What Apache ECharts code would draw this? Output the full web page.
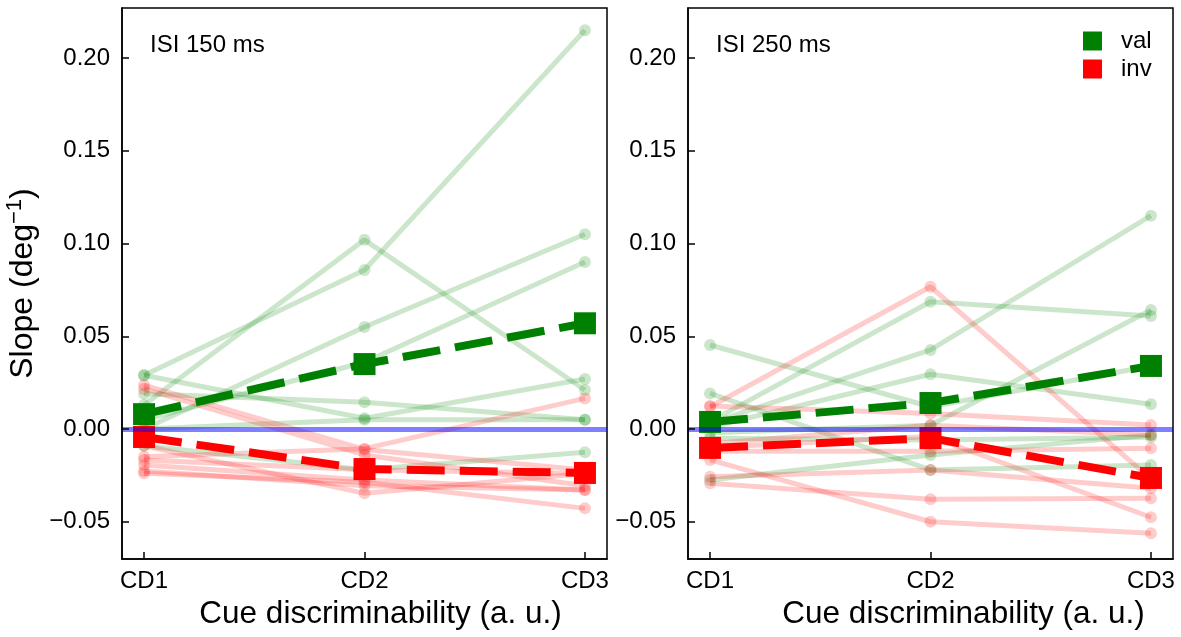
<!DOCTYPE html>
<html><head><meta charset="utf-8">
<script src="https://cdn.jsdelivr.net/npm/echarts@6/dist/echarts.min.js"></script>
<style>html,body{margin:0;padding:0;background:#fff}#c{width:1181px;height:637px}</style>
</head><body><div id="c"></div>
<script>
// ---------- data ----------
const categories = ['CD1', 'CD2', 'CD3'];
const yTickValues = [-0.05, 0, 0.05, 0.10, 0.15, 0.20];
const panelTitles = ['ISI 150 ms', 'ISI 250 ms'];
const legendNames = ['val', 'inv'];

// individual subjects, ISI 150 ms
const isi150Val = [
  [0.029, 0.0857, 0.215],
  [0.013, 0.102, 0.021],
  [0.000, 0.055, 0.105],
  [0.005, 0.036, 0.090],
  [0.029, 0.0058, 0.027],
  [0.019, 0.0144, 0.005],
  [0.000, 0.005, 0.005],
  [-0.009, -0.022, -0.0126]
];
const isi150Inv = [
  [0.0237, -0.011, -0.0221],
  [0.0216, -0.014, -0.0306],
  [-0.015, -0.0106, 0.0165],
  [-0.0167, -0.022, -0.024],
  [-0.0194, -0.0275, -0.0329],
  [-0.0226, -0.0306, -0.0329],
  [-0.0239, -0.0287, -0.0428],
  [-0.009, -0.0347, -0.024]
];
// individual subjects, ISI 250 ms
const isi250Val = [
  [0.0453, 0.012, 0.034],
  [0.0192, -0.0221, -0.0194],
  [0.004, 0.0686, 0.0609],
  [0.003, 0.0426, 0.115],
  [0.001, 0.0295, 0.0133],
  [-0.002, 0.002, 0.0642],
  [-0.0275, -0.014, -0.0032],
  [-0.005, -0.006, -0.0045]
];
const isi250Inv = [
  [0.012, 0.0767, -0.027],
  [0.0124, 0.0084, 0.0022],
  [-0.010, -0.004, -0.0476],
  [-0.012, -0.012, -0.0104],
  [-0.0167, -0.050, -0.0562],
  [-0.0257, -0.0221, -0.032],
  [-0.0293, -0.0379, -0.0374],
  [-0.008, 0.002, -0.0032]
];
// group means
const isi150ValMean = [0.008, 0.035, 0.057];
const isi150InvMean = [-0.0043, -0.0216, -0.0237];
const isi250ValMean = [0.0038, 0.014, 0.034];
const isi250InvMean = [-0.0102, -0.0049, -0.0264];

// ---------- chart ----------
const GREEN = '#008000', RED = '#ff0000';
const FONT = '"Liberation Sans", Arial, Helvetica, sans-serif';
const chart = echarts.init(document.getElementById('c'), null, {renderer: 'canvas'});

const panels = [
  {val: isi150Val, inv: isi150Inv, valMean: isi150ValMean, invMean: isi150InvMean},
  {val: isi250Val, inv: isi250Inv, valMean: isi250ValMean, invMean: isi250InvMean}
];
const gridLefts = [122, 688];
const xNameShift = [32, 66];

const toPts = row => row.map((v, j) => [j, v]);
const fmtY = v => (v < 0 ? '\u2212' : '') + Math.abs(v).toFixed(2);

const grids = [], xAxes = [], yAxes = [], series = [], titles = [];
panels.forEach((p, i) => {
  grids.push({left: gridLefts[i], top: 8, width: 485, height: 551, show: true,
    borderColor: '#000', borderWidth: 1.5, backgroundColor: 'transparent', containLabel: false});
  xAxes.push({
    type: 'value', gridIndex: i, min: -0.1, max: 2.1, z: 5,
    splitLine: {show: false}, axisLine: {show: true, onZero: false, lineStyle: {color: '#000', width: 1.5}},
    axisTick: {show: true, inside: true, length: 7, customValues: [0, 1, 2], lineStyle: {color: '#000', width: 1.5}},
    axisLabel: {customValues: [0, 1, 2], formatter: v => categories[Math.round(v)], fontSize: 24, color: '#000', margin: 10, fontFamily: FONT},
    name: 'Cue discriminability (a. u.)', nameLocation: 'middle', nameGap: 37,
    nameTextStyle: {fontSize: 31.5, color: '#000', fontFamily: FONT, padding: [0, 0, 0, xNameShift[i]]}
  });
  yAxes.push({
    type: 'value', gridIndex: i, min: -0.0701, max: 0.2270, z: 5,
    splitLine: {show: false}, axisLine: {show: true, onZero: false, lineStyle: {color: '#000', width: 1.5}},
    axisTick: {show: true, inside: true, length: 7, customValues: yTickValues, lineStyle: {color: '#000', width: 1.5}},
    axisLabel: {customValues: yTickValues, formatter: fmtY, fontSize: 24, color: '#000', margin: 12, fontFamily: FONT},
    name: i === 0 ? 'Slope (deg{sup|\u22121})' : '', nameLocation: 'middle', nameGap: 80,
    nameTextStyle: {fontSize: 32, color: '#000', fontFamily: FONT, lineHeight: 38,
      rich: {sup: {fontSize: 22, fontFamily: FONT, color: '#000', verticalAlign: 'top', lineHeight: 22}}}
  });
  titles.push({text: panelTitles[i], left: gridLefts[i] + 28, top: 33, padding: 0,
    textStyle: {fontSize: 24, fontWeight: 'normal', color: '#000', fontFamily: FONT}});

  const addSubjects = (rows, color, tag) => rows.forEach((row, k) => series.push({
    name: tag + '-' + i + '-' + k, type: 'line', xAxisIndex: i, yAxisIndex: i, data: toPts(row),
    symbol: 'circle', symbolSize: 12, z: 2, silent: true,
    lineStyle: {color: color, width: 5, opacity: 0.2},
    itemStyle: {color: color, opacity: 0.2},
    emphasis: {disabled: true}
  }));
  addSubjects(p.val, GREEN, 'vs');
  addSubjects(p.inv, RED, 'is');

  series.push({
    name: 'zero-' + i, type: 'line', xAxisIndex: i, yAxisIndex: i, data: [], z: 3, silent: true,
    markLine: {silent: true, symbol: ['none', 'none'], label: {show: false}, animation: false,
      lineStyle: {color: 'rgba(0,0,255,0.5)', width: 5, type: 'solid'}, data: [{yAxis: 0}]}
  });

  const addMean = (vals, color, name) => series.push({
    name: name, type: 'line', xAxisIndex: i, yAxisIndex: i, data: toPts(vals),
    symbol: 'rect', symbolSize: 22, z: 4, silent: true,
    lineStyle: {color: color, width: 8, type: [38, 15]},
    itemStyle: {color: color},
    emphasis: {disabled: true}
  });
  addMean(p.valMean, GREEN, legendNames[0]);
  addMean(p.invMean, RED, legendNames[1]);
});

chart.setOption({
  animation: false,
  backgroundColor: '#fff',
  title: titles,
  legend: {data: legendNames, orient: 'vertical', left: 1083, top: 29, padding: 0, icon: 'rect',
    itemWidth: 19, itemHeight: 19, itemGap: 4, selectedMode: false,
    textStyle: {fontSize: 24, color: '#000', fontFamily: FONT, padding: [0, 0, 0, 14]}},
  grid: grids, xAxis: xAxes, yAxis: yAxes, series: series
});
</script></body></html>
